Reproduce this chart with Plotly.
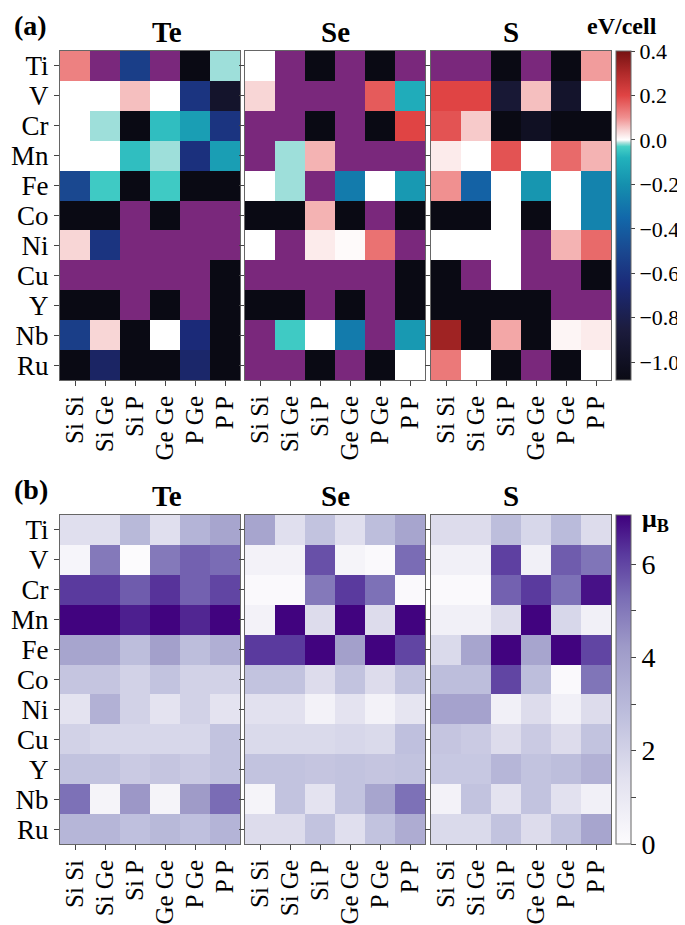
import plotly.graph_objects as go
import numpy as np

N = None
B = -1.5  # below colour range (black cells)

metals = ["Ti", "V", "Cr", "Mn", "Fe", "Co", "Ni", "Cu", "Y", "Nb", "Ru"]
pairs = ["Si Si", "Si Ge", "Si P", "Ge Ge", "P Ge", "P P"]
anions = ["Te", "Se", "S"]

energy_Te = [
    [0.12, N, -0.55, N, B, -0.015],
    [0, 0, 0.06, 0, -0.6, -0.95],
    [0, -0.015, B, -0.06, -0.15, -0.6],
    [0, 0, -0.06, -0.015, -0.62, -0.15],
    [-0.5, -0.04, B, -0.04, B, B],
    [B, B, N, B, N, N],
    [0.04, -0.6, N, N, N, N],
    [N, N, N, N, N, B],
    [B, B, N, B, N, B],
    [-0.55, 0.04, B, 0, -0.65, B],
    [B, -0.72, B, B, -0.7, B],
]
energy_Se = [
    [0, N, B, N, B, N],
    [0.04, N, N, N, 0.17, -0.1],
    [N, N, B, N, B, 0.2],
    [N, -0.015, 0.07, N, N, N],
    [0, -0.015, N, -0.28, 0, -0.17],
    [B, B, 0.07, B, N, B],
    [0, N, 0.02, 0.005, 0.14, N],
    [N, N, N, N, N, B],
    [B, B, N, B, N, B],
    [N, -0.04, 0, -0.28, N, -0.17],
    [N, N, B, N, B, 0],
]
energy_S = [
    [N, N, B, N, B, 0.09],
    [0.2, 0.2, -0.9, 0.06, -0.95, 0],
    [0.18, 0.05, B, -1.0, B, B],
    [0.02, 0, 0.18, 0, 0.15, 0.07],
    [0.1, -0.38, 0, -0.18, 0, -0.25],
    [B, B, 0, B, 0, -0.25],
    [0, 0, 0, N, 0.07, 0.15],
    [B, N, 0, N, N, B],
    [B, B, B, B, N, N],
    [0.33, B, 0.08, B, 0.01, 0.02],
    [0.13, 0, B, N, B, 0],
]

moment_Te = [
    [1.5, 1.5, 3.0, 1.5, 3.2, 3.8],
    [0.3, 5.0, 0.0, 5.0, 5.5, 5.3],
    [6.2, 6.2, 5.6, 6.3, 5.5, 6.0],
    [7.0, 7.0, 6.6, 7.0, 6.5, 7.0],
    [3.8, 3.8, 2.8, 4.0, 2.8, 3.4],
    [2.5, 2.5, 2.0, 2.6, 2.0, 2.0],
    [1.3, 3.3, 2.0, 1.3, 2.0, 1.3],
    [2.0, 1.8, 1.8, 1.8, 1.8, 2.6],
    [2.6, 2.6, 2.3, 2.5, 2.3, 2.6],
    [5.2, 0.4, 4.3, 0.4, 4.2, 5.3],
    [3.1, 3.1, 2.7, 3.0, 2.7, 3.2],
]
moment_Se = [
    [3.8, 1.5, 2.6, 1.5, 2.8, 3.8],
    [0.5, 0.5, 5.8, 0.4, 0.1, 5.3],
    [0.1, 0.1, 5.0, 6.2, 5.2, 0.1],
    [0.5, 7.0, 1.6, 7.0, 1.6, 7.0],
    [6.2, 6.2, 7.0, 4.0, 7.0, 6.0],
    [2.6, 2.6, 1.6, 2.6, 1.6, 2.6],
    [1.4, 1.4, 0.5, 1.3, 0.5, 1.2],
    [1.7, 1.7, 1.7, 1.8, 1.7, 2.7],
    [2.6, 2.6, 2.5, 2.6, 2.5, 2.6],
    [0.4, 2.6, 1.3, 2.6, 3.8, 5.2],
    [1.6, 1.6, 2.6, 1.5, 2.6, 3.5],
]
moment_S = [
    [1.6, 1.6, 2.8, 1.8, 2.9, 1.6],
    [0.6, 0.6, 6.1, 0.6, 5.6, 5.1],
    [0.1, 0.1, 5.5, 6.2, 5.2, 6.8],
    [0.6, 0.6, 1.6, 7.0, 1.8, 0.6],
    [1.7, 3.8, 7.0, 3.8, 7.0, 6.0],
    [2.8, 2.8, 6.0, 2.8, 0.1, 5.1],
    [3.9, 3.9, 0.6, 1.6, 0.6, 1.6],
    [2.5, 2.3, 1.6, 2.3, 1.6, 2.6],
    [2.4, 2.4, 3.1, 2.6, 2.8, 3.3],
    [0.5, 2.6, 1.3, 2.6, 1.4, 0.6],
    [1.7, 1.7, 2.6, 1.6, 2.6, 3.8],
]

energy_ticks = [0.4, 0.2, 0.0, -0.2, -0.4, -0.6, -0.8, -1.0]
moment_ticks = [0, 1, 2, 3, 4, 5, 6]
moment_ticktext = ["0", " ", "2", " ", "4", " ", "6"]

energies = [energy_Te, energy_Se, energy_S]
moments = [moment_Te, moment_Se, moment_S]

W, H = 685, 925
EMIN, EMAX = -1.08, 0.4
MMAX = 7.05


def en(v):
    return (v - EMIN) / (EMAX - EMIN)


energy_scale = [
    [0.0, "#0a0a14"],
    [en(-0.85), "#1c1c3e"],
    [en(-0.65), "#1b2a78"],
    [en(-0.5), "#1a4890"],
    [en(-0.35), "#1268aa"],
    [en(-0.2), "#1590ae"],
    [en(-0.08), "#22b2bc"],
    [en(-0.03), "#46d0c6"],
    [en(-0.012), "#b0e2de"],
    [en(0.0), "#ffffff"],
    [en(0.04), "#f8d6d6"],
    [en(0.1), "#f09090"],
    [en(0.2), "#e04444"],
    [en(0.3), "#b02a2a"],
    [1.0, "#761212"],
]
moment_scale = [
    [0.0, "#fcfbfd"],
    [0.2, "#e2e1ef"],
    [0.4, "#bcbddc"],
    [0.6, "#9e9ac8"],
    [0.75, "#7a6db5"],
    [0.88, "#5a3a9e"],
    [1.0, "#3f007d"],
]

SERIF = "Liberation Serif, Times New Roman, serif"
px_x = [(52, 232), (237, 417), (423, 603)]
px_y_top = (43, 372)
px_y_bot = (507, 836)


def fx(a, b):
    return [a / W, b / W]


def fy(a, b):
    return [1 - b / H, 1 - a / H]


fig = go.Figure()
layout = dict(
    width=W, height=H,
    margin=dict(l=0, r=0, t=0, b=0),
    paper_bgcolor="white",
    plot_bgcolor="#7a287c",
    showlegend=False,
    font=dict(family=SERIF, color="black"),
)

axis_idx = 0
for row in range(2):
    data = energies if row == 0 else moments
    py = px_y_top if row == 0 else px_y_bot
    for col in range(3):
        axis_idx += 1
        xa = "x" if axis_idx == 1 else f"x{axis_idx}"
        ya = "y" if axis_idx == 1 else f"y{axis_idx}"
        z = np.array([[np.nan if v is None else v for v in r] for r in data[col]], dtype=float)
        fig.add_trace(go.Heatmap(
            z=z, x=pairs, y=metals, xaxis=xa, yaxis=ya,
            coloraxis="coloraxis" if row == 0 else "coloraxis2",
            hoverongaps=False,
        ))
        key = "" if axis_idx == 1 else str(axis_idx)
        layout["xaxis" + key] = dict(
            domain=fx(*px_x[col]), anchor=ya, tickangle=-90,
            tickmode="array", tickvals=pairs, ticktext=pairs,
            tickfont=dict(size=25, family=SERIF), ticks="outside", ticklen=5,
            tickcolor="#444", showline=True, mirror=True, linecolor="#666",
            linewidth=1, showgrid=False, zeroline=False, fixedrange=True,
        )
        layout["yaxis" + key] = dict(
            domain=fy(*py), anchor=xa, autorange="reversed",
            tickmode="array", tickvals=metals, ticktext=metals,
            tickfont=dict(size=27, family=SERIF), ticks="outside", ticklen=5,
            tickcolor="#444", showticklabels=(col == 0),
            showline=True, mirror=True, linecolor="#666", linewidth=1,
            showgrid=False, zeroline=False, fixedrange=True,
        )

layout["coloraxis"] = dict(
    colorscale=energy_scale, cmin=EMIN, cmax=EMAX,
    colorbar=dict(
        x=608 / W, xanchor="left", xpad=0, ypad=0,
        y=1 - px_y_top[1] / H, yanchor="bottom",
        len=(px_y_top[1] - px_y_top[0]) / H, lenmode="fraction",
        thickness=15, outlinewidth=1, outlinecolor="#666",
        tickvals=energy_ticks, tickformat=".1f", ticks="outside", ticklen=4,
        tickfont=dict(size=22, family=SERIF),
    ),
)
layout["coloraxis2"] = dict(
    colorscale=moment_scale, cmin=0, cmax=MMAX,
    colorbar=dict(
        x=608 / W, xanchor="left", xpad=0, ypad=0,
        y=1 - px_y_bot[1] / H, yanchor="bottom",
        len=(px_y_bot[1] - px_y_bot[0]) / H, lenmode="fraction",
        thickness=15, outlinewidth=1, outlinecolor="#666",
        tickvals=moment_ticks, ticktext=moment_ticktext,
        ticks="outside", ticklen=5,
        tickfont=dict(size=28, family=SERIF),
    ),
)

annotations = []
for i, name in enumerate(anions):
    cx = (px_x[i][0] + px_x[i][1]) / 2 / W
    for py in (px_y_top, px_y_bot):
        annotations.append(dict(
            x=cx, y=1 - (py[0] - 1) / H, xref="paper", yref="paper",
            text=f"<b>{name}</b>", showarrow=False, yanchor="bottom",
            font=dict(size=29, family=SERIF),
        ))
annotations.append(dict(x=4 / W, y=1 - 0 / H, xref="paper", yref="paper",
                        text="<b>(a)</b>", showarrow=False, xanchor="left", yanchor="top",
                        font=dict(size=28, family=SERIF)))
annotations.append(dict(x=4 / W, y=1 - 464 / H, xref="paper", yref="paper",
                        text="<b>(b)</b>", showarrow=False, xanchor="left", yanchor="top",
                        font=dict(size=28, family=SERIF)))
annotations.append(dict(x=614 / W, y=1 - 3 / H, xref="paper", yref="paper",
                        text="<b>eV/cell</b>", showarrow=False, xanchor="center", yanchor="top",
                        font=dict(size=24, family=SERIF)))
annotations.append(dict(x=632 / W, y=1 - 494 / H, xref="paper", yref="paper",
                        text="<b>μ<sub>B</sub></b>", showarrow=False, xanchor="left", yanchor="top",
                        font=dict(size=26, family=SERIF)))
layout["annotations"] = annotations

fig.update_layout(**layout)
fig.write_html("out.html")
